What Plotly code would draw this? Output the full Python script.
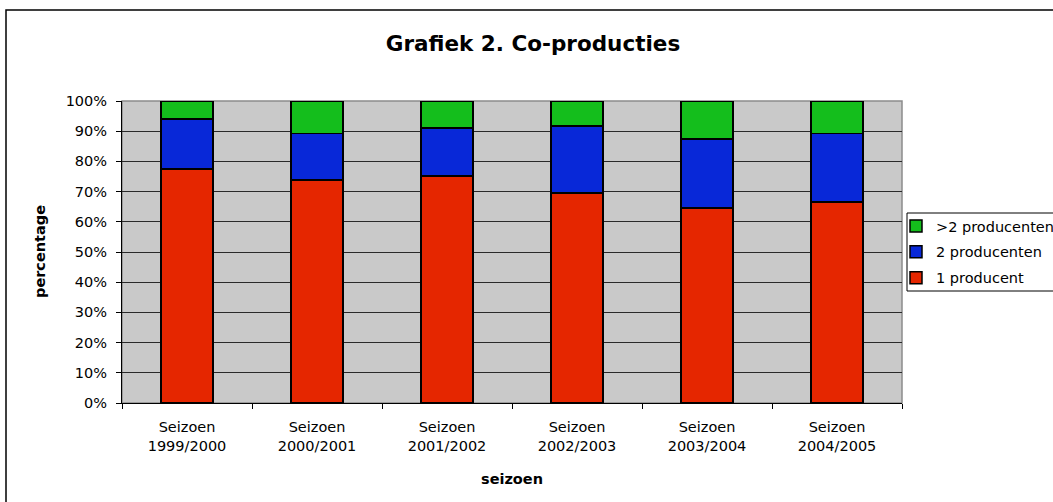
import plotly.graph_objects as go

categories = ["Seizoen<br>1999/2000", "Seizoen<br>2000/2001", "Seizoen<br>2001/2002",
              "Seizoen<br>2002/2003", "Seizoen<br>2003/2004", "Seizoen<br>2004/2005"]
een_producent = [77.5, 73.8, 75.2, 69.6, 64.6, 66.6]
twee_producenten = [16.5, 15.4, 15.9, 22.1, 22.9, 22.6]
meer_producenten = [6.0, 10.8, 8.9, 8.3, 12.5, 10.8]

series = [
    ("1 producent", een_producent, "#E52600", 3),
    ("2 producenten", twee_producenten, "#0828D8", 2),
    (">2 producenten", meer_producenten, "#14BE1C", 1),
]

font_family = "DejaVu Sans, Verdana, sans-serif"

totals = [a + b + c for a, b, c in zip(een_producent, twee_producenten, meer_producenten)]

fig = go.Figure()
for name, vals, col, rank in series:
    fig.add_trace(go.Bar(
        x=categories,
        y=[v / t for v, t in zip(vals, totals)],
        name=name,
        legendgroup=name,
        legendrank=rank,
        marker=dict(color=col, line=dict(color="#000000", width=1.5)),
    ))

W, H = 1053, 502
L, R, T, B = 122, 902, 101, 403

def px_x(p):
    return (p - L) / (R - L)

def px_y(p):
    return (B - p) / (B - T)

fig.update_layout(
    width=W, height=H,
    barmode="stack",
    bargap=0.6,
    paper_bgcolor="white",
    plot_bgcolor="#C9C9C9",
    margin=dict(l=L, r=W - R, t=T, b=H - B, pad=0, autoexpand=False),
    font=dict(family=font_family, size=14.5, color="#000000"),
    title=dict(text="<b>Grafiek 2. Co-producties</b>", x=533 / W, xref="container",
               y=1 - 43 / H, yref="container", yanchor="middle", xanchor="center",
               font=dict(size=21.5, family=font_family, color="#000000")),
    showlegend=True,
    legend=dict(
        traceorder="grouped",
        tracegroupgap=4,
        x=px_x(896), y=px_y(210), xanchor="left", yanchor="top",
        borderwidth=0, bgcolor="rgba(0,0,0,0)",
        font=dict(size=14.5, family=font_family),
        itemwidth=30,
    ),
    xaxis=dict(
        showgrid=False,
        showline=True, linecolor="#000000", linewidth=1,
        ticks="outside", ticklen=5, tickcolor="#000000",
        tickson="boundaries",
        tickfont=dict(size=14.5),
        ticklabelstandoff=11,
    ),
    yaxis=dict(
        range=[0, 1],
        dtick=0.1,
        tickformat=".0%",
        showgrid=True, gridcolor="#2a2a2a", gridwidth=1,
        showline=True, linecolor="#000000", linewidth=1,
        ticks="outside", ticklen=5, tickcolor="#000000",
        tickfont=dict(size=14.5),
        ticklabelstandoff=6,
        zeroline=False,
    ),
    annotations=[
        dict(text="<b>seizoen</b>", xref="paper", yref="paper", x=0.5, y=px_y(479),
             xanchor="center", yanchor="middle", showarrow=False,
             font=dict(size=14.5, family=font_family)),
        dict(text="<b>percentage</b>", xref="paper", yref="paper", x=px_x(40), y=0.5,
             xanchor="center", yanchor="middle", showarrow=False, textangle=-90,
             font=dict(size=14.5, family=font_family)),
    ],
    shapes=[
        dict(type="rect", xref="paper", yref="paper",
             x0=0, x1=1, y0=0, y1=1,
             line=dict(color="#8C8C8C", width=1.5), fillcolor="rgba(0,0,0,0)", layer="below"),
        dict(type="rect", xref="paper", yref="paper",
             x0=px_x(6), x1=px_x(1070), y0=px_y(10), y1=px_y(520),
             line=dict(color="#000000", width=1.5), fillcolor="rgba(0,0,0,0)"),
        dict(type="rect", xref="paper", yref="paper",
             x0=px_x(907), x1=px_x(1070), y0=px_y(213), y1=px_y(291),
             line=dict(color="#000000", width=1), fillcolor="white", layer="below"),
    ],
)

fig.write_html("out.html", config={"displayModeBar": False},
               post_script="document.body.style.margin='0';document.body.style.padding='0';")
